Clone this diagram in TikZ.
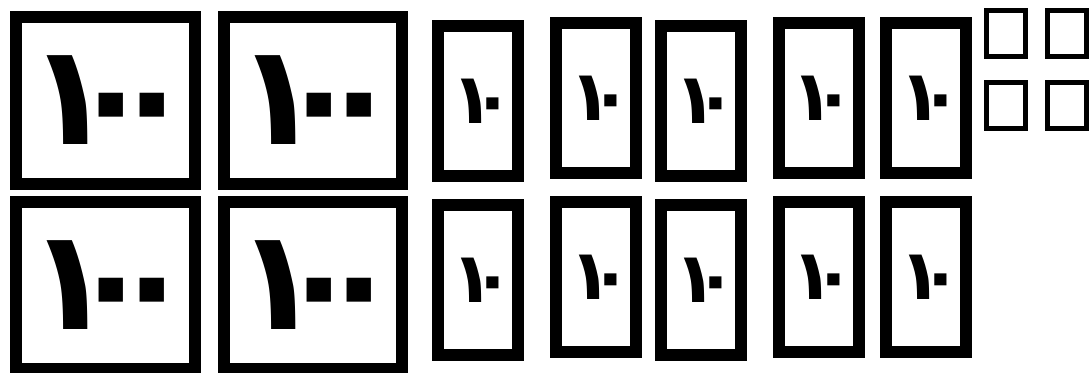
\documentclass[tikz,border=0pt]{standalone}
\usepackage{fontspec}
\newfontfamily\arabicfont[Script=Arabic,LetterSpace=-32]{DejaVu Sans}
\usepackage{tikz}
\usetikzlibrary{positioning}

\begin{document}
\begin{tikzpicture}[
  x=1pt, y=-1pt,
  hundred/.style={draw, line width=12pt, minimum width=178.7pt, minimum height=167pt, inner sep=0pt, execute at begin node={\kern12pt}, font=\arabicfont\bfseries\fontsize{140}{140}\selectfont},
  ten/.style={draw, line width=12pt, minimum width=80pt, minimum height=150pt, inner sep=0pt, execute at begin node={\kern10pt}, font=\arabicfont\bfseries\fontsize{70}{70}\selectfont},
  one/.style={draw, line width=5pt, minimum width=39pt, minimum height=46pt, inner sep=0pt},
]
\useasboundingbox (0,0) rectangle (1089,372);
% hundreds
\node[hundred] (h1) at (105.3,100.5) {١٠٠};
\node[hundred] (h2) at (313,100.5) {١٠٠};
\node[hundred] (h3) at (105.3,285.5) {١٠٠};
\node[hundred] (h4) at (313,285.5) {١٠٠};
% tens
\node[ten] (t1) at (478,100.8) {١٠};
\node[ten] (t2) at (596,98.2) {١٠};
\node[ten] (t3) at (701,100.8) {١٠};
\node[ten] (t4) at (818.5,98.2) {١٠};
\node[ten] (t5) at (926,98.2) {١٠};
\node[ten] (t6) at (478,280) {١٠};
\node[ten] (t7) at (596,277) {١٠};
\node[ten] (t8) at (701,280) {١٠};
\node[ten] (t9) at (818.5,277) {١٠};
\node[ten] (t10) at (926,277) {١٠};
% ones
\node[one] (o1) at (1006,33.7) {};
\node[one] (o2) at (1067,33.7) {};
\node[one] (o3) at (1006,105.5) {};
\node[one] (o4) at (1067,105.5) {};
\end{tikzpicture}
\end{document}
